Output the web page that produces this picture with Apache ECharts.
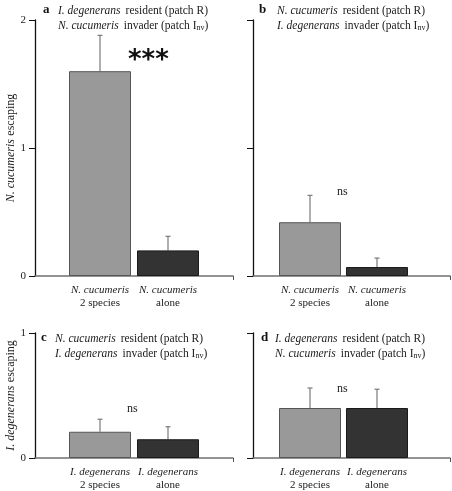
<!DOCTYPE html>
<html>
<head>
<meta charset="utf-8">
<script src="https://cdn.jsdelivr.net/npm/echarts@6/dist/echarts.min.js"></script>
<style>html,body{margin:0;padding:0;background:#fff}#c{width:452px;height:491px}</style>
</head>
<body>
<div id="c"></div>
<script>
// ---- data ----
const treatments = ['2 species', 'alone'];
const speciesTop = 'N. cucumeris';
const speciesBottom = 'I. degenerans';
const meanA = [1.60, 0.20];
const seA   = [0.28, 0.11];
const meanB = [0.42, 0.07];
const seB   = [0.21, 0.07];
const meanC = [0.21, 0.15];
const seC   = [0.10, 0.10];
const meanD = [0.40, 0.40];
const seD   = [0.16, 0.15];
const yTicksTop = [0, 1, 2];
const yTicksBottom = [0, 1];
const signifA = '***';
const signifB = 'ns';
const signifC = 'ns';
const signifD = 'ns';

const SERIF = '"Liberation Serif", "DejaVu Serif", serif';
const barColors = ['#999999', '#333333'];
const barBorders = ['#555555', '#1a1a1a'];

const panels = [
  {grid: {left: 35, top: 20, width: 198, height: 256}, xmin: 0.044, xmax: 2.956, ymax: yTicksTop[yTicksTop.length-1], mean: meanA, se: seA, sp: speciesTop, leftAxis: true, yname: '{i|N. cucumeris} {n|escaping}'},
  {grid: {left: 253, top: 20, width: 197, height: 256}, xmin: 0.149, xmax: 3.09, ymax: yTicksTop[yTicksTop.length-1], mean: meanB, se: seB, sp: speciesTop, leftAxis: false},
  {grid: {left: 35, top: 333, width: 198, height: 128}, xmin: 0.044, xmax: 2.956, ymax: yTicksBottom[yTicksBottom.length-1], mean: meanC, se: seC, sp: speciesBottom, leftAxis: true, yname: '{i|I. degenerans} {n|escaping}'},
  {grid: {left: 253, top: 333, width: 197, height: 128}, xmin: 0.149, xmax: 3.09, ymax: yTicksBottom[yTicksBottom.length-1], mean: meanD, se: seD, sp: speciesBottom, leftAxis: false}
];

const grid = [], xAxis = [], yAxis = [], series = [];
panels.forEach((p, k) => {
  grid.push(p.grid);
  xAxis.push({
    type: 'value', gridIndex: k, min: p.xmin, max: p.xmax,
    splitLine: {show: false},
    axisLine: {show: true, onZero: false, lineStyle: {color: '#707070', width: 1.5}},
    axisTick: {show: true, customValues: [p.xmax], length: 4, lineStyle: {color: '#505050'}},
    axisLabel: {
      show: true, customValues: [1, 2], margin: 8,
      formatter: v => '{i|' + p.sp + '}\n{n|' + treatments[Math.round(v) - 1] + '}',
      rich: {
        i: {fontFamily: SERIF, fontStyle: 'italic', fontSize: 11, color: '#222', lineHeight: 13, align: 'center'},
        n: {fontFamily: SERIF, fontSize: 11, color: '#222', lineHeight: 13, align: 'center'}
      }
    }
  });
  yAxis.push({
    type: 'value', gridIndex: k, min: 0, max: p.ymax, interval: 1,
    splitLine: {show: false},
    axisLine: {show: true, lineStyle: {color: '#111', width: 1.3}},
    axisTick: {show: true, length: 6, lineStyle: {color: '#111'}},
    axisLabel: {show: p.leftAxis, margin: 9, fontFamily: SERIF, fontSize: 11, color: '#222'},
    name: p.leftAxis ? p.yname : '',
    nameLocation: 'middle', nameRotate: 90, nameGap: 17,
    nameTextStyle: {
      rich: {
        i: {fontFamily: SERIF, fontStyle: 'italic', fontSize: 12, color: '#222'},
        n: {fontFamily: SERIF, fontSize: 12, color: '#222'}
      }
    }
  });
  series.push({
    type: 'bar', xAxisIndex: k, yAxisIndex: k, barWidth: 62,
    data: p.mean.map((m, i) => ({value: [i + 1, m], itemStyle: {color: barColors[i], borderColor: barBorders[i], borderWidth: 1}})),
    silent: true, animation: false
  });
  series.push({
    type: 'custom', xAxisIndex: k, yAxisIndex: k, z: 1,
    data: p.mean.map((m, i) => [i + 1, m, m + p.se[i]]),
    renderItem: (params, api) => {
      const a = api.coord([api.value(0), api.value(1)]);
      const b = api.coord([api.value(0), api.value(2)]);
      const st = {stroke: '#7a7a7a', lineWidth: 1.2};
      return {type: 'group', children: [
        {type: 'line', shape: {x1: a[0], y1: a[1], x2: b[0], y2: b[1]}, style: st},
        {type: 'line', shape: {x1: b[0] - 2.5, y1: b[1], x2: b[0] + 2.5, y2: b[1]}, style: st}
      ]};
    },
    silent: true, animation: false
  });
});

const titleRich = {
  i: {fontFamily: SERIF, fontStyle: 'italic', fontWeight: 'normal', fontSize: 11.5, color: '#1a1a1a', lineHeight: 15},
  n: {fontFamily: SERIF, fontWeight: 'normal', fontSize: 11.5, color: '#1a1a1a', lineHeight: 15},
  s: {fontFamily: SERIF, fontWeight: 'normal', fontSize: 8, color: '#1a1a1a', lineHeight: 15, verticalAlign: 'bottom', padding: [0, 0, 1, 0]}
};
function twoLine(first, second) {
  return '{i|' + first + '} {n|resident (patch R)}\n{i|' + second + '} {n|invader (patch I}{s|nv}{n|)}';
}
function letter(t, x, y) {
  return {text: t, left: x, top: y, padding: 0, textStyle: {fontFamily: SERIF, fontWeight: 'bold', fontSize: 13, color: '#111'}};
}
function ttl(txt, x, y) {
  return {text: txt, left: x, top: y, padding: 0, textStyle: {rich: titleRich, fontWeight: 'normal', lineHeight: 15}};
}

const option = {
  animation: false,
  grid, xAxis, yAxis, series,
  title: [
    letter('a', 43, 3), ttl(twoLine('I. degenerans', 'N. cucumeris'), 58, 3),
    letter('b', 259, 3), ttl(twoLine('N. cucumeris', 'I. degenerans'), 277, 3),
    letter('c', 41, 331), ttl(twoLine('N. cucumeris', 'I. degenerans'), 55, 331),
    letter('d', 261, 331), ttl(twoLine('I. degenerans', 'N. cucumeris'), 275, 331)
  ],
  graphic: [
    {type: 'text', left: 128, top: 48, style: {text: signifA, fontFamily: '"DejaVu Sans", sans-serif', fontWeight: 'bold', fontSize: 26, fill: '#111'}},
    {type: 'text', left: 337, top: 186, style: {text: signifB, fontFamily: SERIF, fontSize: 12, fill: '#222'}},
    {type: 'text', left: 127, top: 403, style: {text: signifC, fontFamily: SERIF, fontSize: 12, fill: '#222'}},
    {type: 'text', left: 337, top: 383, style: {text: signifD, fontFamily: SERIF, fontSize: 12, fill: '#222'}}
  ]
};

const chart = echarts.init(document.getElementById('c'), null, {renderer: 'canvas'});
chart.setOption(option);
</script>
</body>
</html>
